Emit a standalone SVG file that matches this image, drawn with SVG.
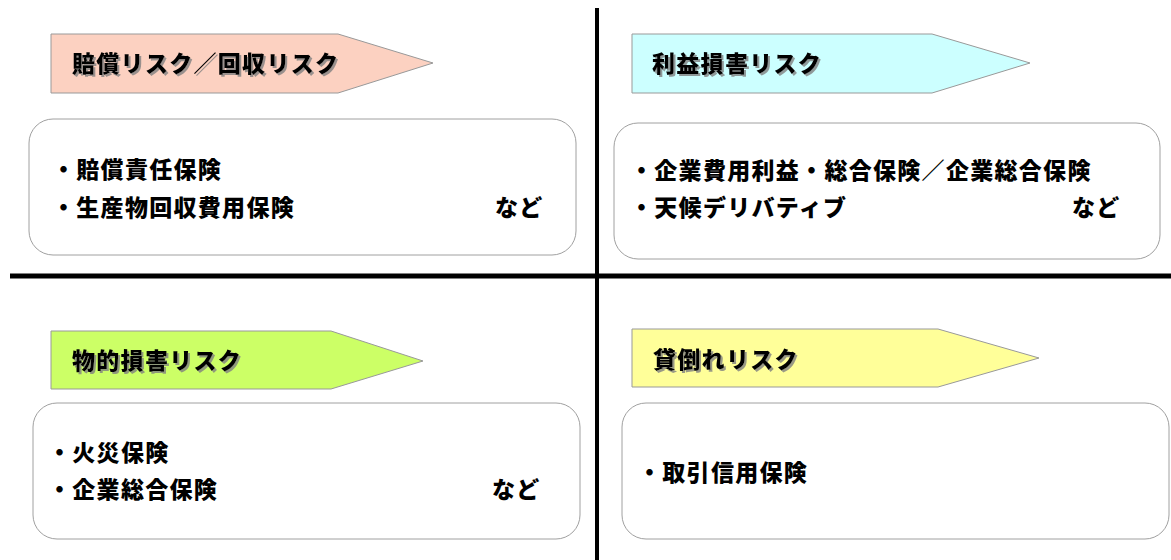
<svg xmlns="http://www.w3.org/2000/svg" width="1171" height="560" viewBox="0 0 1171 560">
<defs>
<style>
.t{font-family:"Noto Sans CJK JP","Noto Sans CJK SC",sans-serif;font-weight:900;font-size:23px;letter-spacing:1.3px;fill:#000}
.title{filter:url(#sh)}
.box{fill:#fff;stroke:#a0a0a0;stroke-width:1}
.arr{stroke:#999;stroke-width:1}
.div{stroke:#000;fill:none}
</style>
<filter id="sh" x="-5%" y="-30%" width="110%" height="160%">
<feDropShadow dx="2" dy="2" stdDeviation="0.6" flood-color="#808080" flood-opacity="0.8"/>
</filter>
</defs>
<rect width="1171" height="560" fill="#fff"/>
<g id="dividers">
<line class="div" x1="597" y1="8" x2="597" y2="560" stroke-width="4"/>
<line class="div" x1="10" y1="276" x2="1171" y2="276" stroke-width="5"/>
</g>
<g id="connectors"></g>
<g id="q1">
<polygon class="arr" fill="#fcd1c1" points="51,34 338,34 433,63 338,93 51,93"/>
<text class="t title" x="72" y="72">賠償リスク／回収リスク</text>
<rect class="box" x="29" y="119" width="547" height="136" rx="24"/>
<text class="t" x="52" y="178">・賠償責任保険</text>
<text class="t" x="52" y="216">・生産物回収費用保険</text>
<text class="t" x="495" y="216">など</text>
</g>
<g id="q2">
<polygon class="arr" fill="#ccffff" points="632,34 932,34 1030,63 932,93 632,93"/>
<text class="t title" x="652" y="72">利益損害リスク</text>
<rect class="box" x="614" y="123" width="546" height="136" rx="24"/>
<text class="t" x="630" y="179">・企業費用利益・総合保険／企業総合保険</text>
<text class="t" x="630" y="216">・天候デリバティブ</text>
<text class="t" x="1072" y="216">など</text>
</g>
<g id="q3">
<polygon class="arr" fill="#ccff66" points="51,331 331,331 423,361 331,389 51,389"/>
<text class="t title" x="72" y="369">物的損害リスク</text>
<rect class="box" x="33" y="403" width="547" height="136" rx="24"/>
<text class="t" x="48" y="461">・火災保険</text>
<text class="t" x="48" y="498">・企業総合保険</text>
<text class="t" x="492" y="498">など</text>
</g>
<g id="q4">
<polygon class="arr" fill="#ffff99" points="632,329 938,329 1039,358 938,387 632,387"/>
<text class="t title" x="653" y="368">貸倒れリスク</text>
<rect class="box" x="622" y="403" width="547" height="136" rx="24"/>
<text class="t" x="638" y="481">・取引信用保険</text>
</g>
</svg>
